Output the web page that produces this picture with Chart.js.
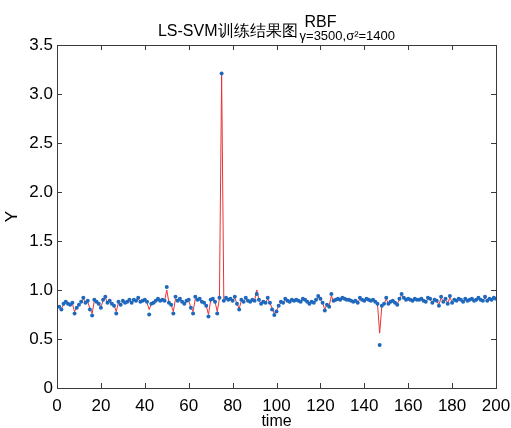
<!DOCTYPE html>
<html>
<head>
<meta charset="utf-8">
<script src="https://cdn.jsdelivr.net/npm/chart.js@4.4.1/dist/chart.umd.min.js"></script>
<style>
    html, body { margin: 0; padding: 0; background: #fff; }
    canvas { display: block; }
</style>
</head>
<body>
<canvas id="trainChart" width="511" height="428"></canvas>
<script>
// measured series (blue dots) and LS-SVM output (red line), samples 1..200
const actual = [
    0.83,0.80,0.86,0.88,0.86,0.85,0.87,0.76,0.82,0.85,
    0.88,0.92,0.87,0.89,0.80,0.74,0.90,0.88,0.86,0.82,
    0.90,0.93,0.87,0.89,0.86,0.84,0.76,0.88,0.85,0.89,
    0.87,0.88,0.90,0.87,0.90,0.89,0.92,0.88,0.89,0.90,
    0.88,0.75,0.86,0.87,0.89,0.91,0.89,0.90,0.89,1.03,
    0.87,0.85,0.76,0.93,0.89,0.91,0.88,0.86,0.89,0.90,
    0.82,0.76,0.93,0.90,0.91,0.88,0.87,0.84,0.73,0.90,
    0.91,0.88,0.76,0.92,3.21,0.89,0.92,0.90,0.91,0.89,
    0.93,0.86,0.80,0.90,0.88,0.92,0.89,0.88,0.90,0.89,
    0.96,0.90,0.86,0.88,0.87,0.92,0.87,0.80,0.745,0.78,
    0.84,0.88,0.87,0.91,0.89,0.88,0.90,0.89,0.90,0.89,
    0.88,0.91,0.90,0.88,0.86,0.88,0.87,0.90,0.94,0.91,
    0.87,0.79,0.85,0.83,0.96,0.89,0.90,0.91,0.90,0.92,
    0.91,0.90,0.90,0.89,0.88,0.89,0.87,0.92,0.90,0.89,
    0.91,0.90,0.89,0.90,0.88,0.86,0.44,0.84,0.86,0.92,
    0.86,0.88,0.89,0.87,0.85,0.91,0.96,0.92,0.90,0.91,
    0.90,0.89,0.91,0.90,0.90,0.91,0.89,0.88,0.92,0.91,
    0.87,0.90,0.89,0.84,0.93,0.88,0.91,0.86,0.94,0.87,
    0.90,0.89,0.91,0.90,0.88,0.91,0.89,0.90,0.91,0.89,
    0.90,0.92,0.90,0.89,0.93,0.89,0.91,0.90,0.92,0.91
];
const predicted = [
    0.83,0.81,0.85,0.88,0.86,0.85,0.86,0.78,0.82,0.85,
    0.88,0.91,0.87,0.88,0.81,0.76,0.89,0.88,0.86,0.83,
    0.89,0.92,0.87,0.88,0.86,0.84,0.78,0.87,0.85,0.88,
    0.87,0.88,0.89,0.87,0.89,0.89,0.91,0.88,0.89,0.89,
    0.87,0.80,0.86,0.87,0.88,0.90,0.89,0.89,0.89,1.00,
    0.87,0.85,0.78,0.91,0.89,0.90,0.88,0.86,0.88,0.89,
    0.82,0.78,0.91,0.90,0.90,0.88,0.87,0.84,0.75,0.89,
    0.90,0.88,0.78,0.91,3.19,0.89,0.91,0.90,0.90,0.89,
    0.92,0.86,0.81,0.89,0.88,0.91,0.89,0.88,0.89,0.89,
    1.00,0.90,0.86,0.88,0.87,0.91,0.87,0.81,0.76,0.79,
    0.84,0.87,0.87,0.90,0.89,0.88,0.89,0.89,0.89,0.89,
    0.88,0.90,0.89,0.88,0.86,0.88,0.87,0.89,0.93,0.90,
    0.87,0.80,0.85,0.84,0.94,0.89,0.89,0.90,0.89,0.91,
    0.90,0.90,0.89,0.89,0.88,0.89,0.87,0.91,0.89,0.89,
    0.90,0.89,0.89,0.89,0.88,0.86,0.56,0.84,0.86,0.91,
    0.86,0.88,0.88,0.87,0.86,0.90,0.95,0.91,0.90,0.90,
    0.90,0.89,0.90,0.90,0.90,0.90,0.89,0.88,0.91,0.90,
    0.87,0.89,0.89,0.85,0.92,0.88,0.90,0.87,0.92,0.88,
    0.90,0.89,0.90,0.90,0.88,0.90,0.89,0.90,0.90,0.89,
    0.90,0.91,0.90,0.89,0.92,0.89,0.90,0.90,0.91,0.91
];
const time = actual.map((_, i) => i + 1);

const xTicks = [0, 20, 40, 60, 80, 100, 120, 140, 160, 180, 200];
const yTicks = [0, 0.5, 1, 1.5, 2, 2.5, 3, 3.5];

const titleMain = 'LS-SVM训练结果图';
const titleSup = 'RBF';
const titleSub = 'γ=3500,σ²=1400';

const axisColor = '#3a3a3a';
const fontFamily = '"Liberation Sans", Arial, sans-serif';

// box around the axes with inward ticks on all four sides
const boxPlugin = {
    id: 'matlabBox',
    afterDraw(chart) {
        const { ctx, chartArea: a, scales } = chart;
        const len = 5;
        ctx.save();
        ctx.strokeStyle = axisColor;
        ctx.lineWidth = 1;
        ctx.beginPath();
        xTicks.forEach(v => {
            const px = Math.round(scales.x.getPixelForValue(v)) + 0.5;
            ctx.moveTo(px, a.bottom);
            ctx.lineTo(px, a.bottom - len);
            ctx.moveTo(px, a.top);
            ctx.lineTo(px, a.top + len);
        });
        yTicks.forEach(v => {
            const py = Math.round(scales.y.getPixelForValue(v)) + 0.5;
            ctx.moveTo(a.left, py);
            ctx.lineTo(a.left + len, py);
            ctx.moveTo(a.right, py);
            ctx.lineTo(a.right - len, py);
        });
        ctx.stroke();
        ctx.strokeRect(Math.round(a.left) + 0.5, Math.round(a.top) + 0.5,
            Math.round(a.right - a.left), Math.round(a.bottom - a.top));
        ctx.restore();
    }
};

// title with a superscript and subscript part, centred over the axes
const titlePlugin = {
    id: 'svmTitle',
    afterDraw(chart) {
        const { ctx, chartArea: a } = chart;
        ctx.save();
        ctx.fillStyle = '#000';
        ctx.textBaseline = 'alphabetic';
        const mainFont = '16px ' + fontFamily;
        const supFont = '16px ' + fontFamily;
        const subFont = '13px ' + fontFamily;
        ctx.font = mainFont;
        const wMain = ctx.measureText(titleMain).width;
        ctx.font = supFont;
        const wSup = ctx.measureText(titleSup).width;
        ctx.font = subFont;
        const wSub = ctx.measureText(titleSub).width;
        const gap = 2;
        const total = wMain + gap + Math.max(wSup, wSub);
        const x0 = (a.left + a.right) / 2 - total / 2;
        ctx.font = mainFont;
        ctx.fillText(titleMain, x0, 36);
        ctx.font = supFont;
        ctx.fillText(titleSup, x0 + wMain + gap + 5, 27);
        ctx.font = subFont;
        ctx.fillText(titleSub, x0 + wMain + gap, 40);
        ctx.restore();
    }
};

new Chart(document.getElementById('trainChart'), {
    type: 'scatter',
    data: {
        datasets: [
            {
                label: 'predicted',
                data: time.map((t, i) => ({ x: t, y: predicted[i] })),
                showLine: true,
                borderColor: 'rgb(232, 52, 52)',
                borderWidth: 1,
                pointRadius: 0,
                order: 2
            },
            {
                label: 'actual',
                data: time.map((t, i) => ({ x: t, y: actual[i] })),
                showLine: false,
                pointRadius: 2,
                pointBorderWidth: 0,
                pointBackgroundColor: 'rgb(30, 105, 190)',
                order: 1
            }
        ]
    },
    options: {
        responsive: false,
        animation: false,
        layout: { padding: { top: 45, right: 15, left: 0, bottom: 0 } },
        plugins: {
            legend: { display: false },
            tooltip: { enabled: false }
        },
        scales: {
            x: {
                type: 'linear',
                min: 0,
                max: 200,
                afterFit: s => {
                    s.height = 40;
                    s.paddingRight = 0;
                    s.paddingLeft = 0;
                },
                afterBuildTicks: s => { s.ticks = xTicks.map(v => ({ value: v })); },
                grid: { display: false, drawTicks: false },
                border: { display: false },
                ticks: {
                    padding: 8,
                    maxRotation: 0,
                    autoSkip: false,
                    color: '#000',
                    font: { family: fontFamily, size: 17 }
                },
                title: {
                    display: true,
                    text: 'time',
                    color: '#000',
                    padding: { top: 0, bottom: -2 },
                    font: { family: fontFamily, size: 16, lineHeight: 1 }
                }
            },
            y: {
                min: 0,
                max: 3.5,
                afterFit: s => { s.width = 57; },
                afterBuildTicks: s => { s.ticks = yTicks.map(v => ({ value: v })); },
                grid: { display: false, drawTicks: false },
                border: { display: false },
                ticks: {
                    padding: 4,
                    autoSkip: false,
                    color: '#000',
                    font: { family: fontFamily, size: 17 }
                },
                title: {
                    display: true,
                    text: 'Y',
                    color: '#000',
                    padding: { top: 4, bottom: 0 },
                    font: { family: fontFamily, size: 17, lineHeight: 1 }
                }
            }
        }
    },
    plugins: [boxPlugin, titlePlugin]
});
</script>
</body>
</html>
